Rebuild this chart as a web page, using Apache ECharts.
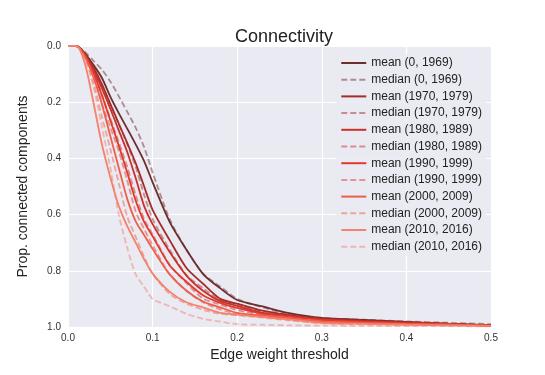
<!DOCTYPE html>
<html>
<head>
  <meta charset="utf-8">
  <title>Connectivity</title>
  <script src="https://cdn.jsdelivr.net/npm/echarts/dist/echarts.min.js"></script>
  <style>
    html, body { margin: 0; padding: 0; background: #fff; }
    #chart { width: 545px; height: 375px; }
  </style>
</head>
<body>
  <div id="chart"></div>
  <script>
    // edge weight thresholds (x)
    var thresholds = [0, 0.01, 0.02, 0.03, 0.04, 0.05, 0.06, 0.07, 0.08, 0.09, 0.10,
      0.12, 0.14, 0.16, 0.18, 0.20, 0.23, 0.26, 0.30, 0.35, 0.40, 0.45, 0.50];

    var periods = ['(0, 1969)', '(1970, 1979)', '(1980, 1989)', '(1990, 1999)', '(2000, 2009)', '(2010, 2016)'];
    var colors = ['#6d2e2e', '#a32d2a', '#c9302a', '#e2392d', '#ee5f49', '#f4826d'];

    // proportion of connected components, per period
    var mean1969 = [0, 0, 0.026, 0.067, 0.113, 0.18, 0.239, 0.294, 0.35, 0.41, 0.485, 0.625, 0.725, 0.8125, 0.8625, 0.904, 0.927, 0.95, 0.968, 0.975, 0.982, 0.988, 0.993];
    var median1969 = [0, 0.002, 0.021, 0.0525, 0.084, 0.126, 0.179, 0.234, 0.291, 0.36, 0.45, 0.615, 0.725, 0.811, 0.856, 0.9, 0.93, 0.954, 0.968, 0.974, 0.98, 0.985, 0.99];
    var mean1979 = [0, 0, 0.029, 0.076, 0.136, 0.206, 0.276, 0.345, 0.417, 0.50, 0.583, 0.69, 0.79, 0.847, 0.90, 0.917, 0.942, 0.957, 0.97, 0.977, 0.983, 0.989, 0.995];
    var median1979 = [0, 0, 0.029, 0.076, 0.136, 0.207, 0.279, 0.35, 0.43, 0.53, 0.616, 0.724, 0.815, 0.863, 0.904, 0.921, 0.946, 0.958, 0.972, 0.979, 0.985, 0.99, 0.995];
    var mean1989 = [0, 0, 0.031, 0.084, 0.15, 0.223, 0.30, 0.377, 0.47, 0.57, 0.634, 0.732, 0.817, 0.872, 0.908, 0.925, 0.95, 0.96, 0.973, 0.98, 0.985, 0.99, 0.995];
    var median1989 = [0, 0, 0.033, 0.089, 0.173, 0.258, 0.342, 0.43, 0.53, 0.616, 0.67, 0.778, 0.844, 0.9, 0.92, 0.94, 0.956, 0.964, 0.978, 0.983, 0.987, 0.99, 0.995];
    var mean1999 = [0, 0, 0.035, 0.094, 0.175, 0.264, 0.355, 0.45, 0.55, 0.626, 0.677, 0.78, 0.839, 0.888, 0.914, 0.932, 0.953, 0.962, 0.975, 0.982, 0.987, 0.99, 0.995];
    var median1999 = [0, 0, 0.037, 0.1, 0.204, 0.289, 0.374, 0.478, 0.589, 0.651, 0.709, 0.812, 0.871, 0.9125, 0.9375, 0.953, 0.962, 0.97, 0.982, 0.986, 0.99, 0.992, 0.995];
    var mean2009 = [0, 0, 0.039, 0.11, 0.206, 0.32, 0.433, 0.544, 0.624, 0.673, 0.722, 0.812, 0.871, 0.91, 0.93, 0.95, 0.959, 0.968, 0.98, 0.985, 0.989, 0.992, 0.995];
    var median2009 = [0, 0, 0.042, 0.127, 0.251, 0.366, 0.4875, 0.607, 0.679, 0.75, 0.811, 0.882, 0.917, 0.939, 0.953, 0.958, 0.967, 0.976, 0.987, 0.99, 0.992, 0.994, 0.996];
    var mean2016 = [0, 0, 0.063, 0.2, 0.349, 0.467, 0.569, 0.641, 0.70, 0.759, 0.81, 0.874, 0.912, 0.931, 0.95, 0.956, 0.965, 0.973, 0.985, 0.989, 0.992, 0.994, 0.996];
    var median2016 = [0, 0, 0.045, 0.143, 0.286, 0.433, 0.6, 0.718, 0.813, 0.857, 0.9, 0.926, 0.953, 0.971, 0.981, 0.99, 0.992, 0.994, 0.995, 0.996, 0.997, 0.997, 0.998];

    var means = [mean1969, mean1979, mean1989, mean1999, mean2009, mean2016];
    var medians = [median1969, median1979, median1989, median1999, median2009, median2016];

    var font = 'Liberation Sans, Arial, sans-serif';
    var series = [];
    periods.forEach(function (p, i) {
      series.push({
        name: 'mean ' + p,
        type: 'line',
        symbol: 'none',
        smooth: 0.25,
        data: thresholds.map(function (x, k) { return [x, means[i][k]]; }),
        lineStyle: { color: colors[i], width: 1.8 },
        itemStyle: { color: colors[i] }
      });
      series.push({
        name: 'median ' + p,
        type: 'line',
        symbol: 'none',
        smooth: 0.25,
        data: thresholds.map(function (x, k) { return [x, medians[i][k]]; }),
        lineStyle: { color: colors[i], width: 1.8, type: [6, 3], opacity: 0.5 },
        itemStyle: { color: colors[i] }
      });
    });

    var myChart = echarts.init(document.getElementById('chart'));
    myChart.setOption({
      animation: false,
      title: {
        text: 'Connectivity',
        left: 279, top: 23, textAlign: 'center',
        textStyle: { fontFamily: font, fontSize: 18, fontWeight: 'normal', color: '#222' }
      },
      grid: {
        left: 68, right: 54, top: 46, bottom: 48,
        show: true, backgroundColor: '#EAEAF2', borderWidth: 0
      },
      legend: {
        orient: 'vertical',
        right: 59, top: 54,
        itemWidth: 25, itemHeight: 10, itemGap: 4.7,
        itemStyle: { opacity: 0 },
        backgroundColor: 'rgba(234,234,242,0.85)',
        padding: [3, 4, 3, 4],
        textStyle: { fontFamily: font, fontSize: 12, color: '#222' },
        data: series.map(function (s) { return s.name; })
      },
      xAxis: {
        type: 'value', min: 0, max: 0.5, interval: 0.1,
        name: 'Edge weight threshold', nameLocation: 'middle', nameGap: 20,
        nameTextStyle: { fontFamily: font, fontSize: 14, color: '#222' },
        axisLine: { show: false }, axisTick: { show: false },
        axisLabel: { fontFamily: font, fontSize: 10, color: '#333', margin: 6,
          formatter: function (v) { return v.toFixed(1); } },
        splitLine: { lineStyle: { color: '#fff', width: 1.2 } }
      },
      yAxis: {
        type: 'value', min: 0, max: 1, interval: 0.2, inverse: true,
        name: 'Prop. connected components', nameLocation: 'middle', nameGap: 38,
        nameTextStyle: { fontFamily: font, fontSize: 14, color: '#222' },
        axisLine: { show: false }, axisTick: { show: false },
        axisLabel: { fontFamily: font, fontSize: 10, color: '#333', margin: 7,
          formatter: function (v) { return v.toFixed(1); } },
        splitLine: { lineStyle: { color: '#fff', width: 1.2 } }
      },
      series: series
    });
  </script>
</body>
</html>
